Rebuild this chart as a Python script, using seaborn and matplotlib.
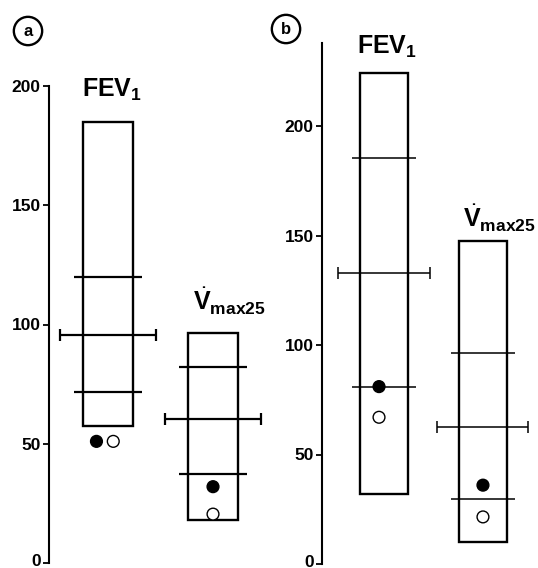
import numpy as np
import pandas as pd
import matplotlib
matplotlib.use('Agg')
import matplotlib.pyplot as plt
import matplotlib.transforms as mtransforms
import seaborn as sns

# values (percent of predicted)
measures = ['FEV1', 'Vmax25']
labels = [r'FEV$_\mathbf{1}$', r'$\dot{\mathbf{V}}_{\mathbf{max25}}$']
ticks = [0, 50, 100, 150, 200]

# panel a
a_top = [185, 96.5]
a_bottom = [57.5, 18]
a_upper = [120, 82]
a_mean = [95.5, 60.5]
a_lower = [71.5, 37.5]
a_filled = [51, 32]
a_open = [51, 20.5]

# panel b
b_top = [224, 147.5]
b_bottom = [32, 10]
b_upper = [185.5, 96.5]
b_mean = [133, 62.5]
b_lower = [81, 29.5]
b_filled = [81, 36]
b_open = [67, 21.5]

sns.set_style('white')
plt.rcParams['font.family'] = ['Liberation Sans', 'DejaVu Sans']
plt.rcParams['mathtext.fontset'] = 'custom'
plt.rcParams['mathtext.rm'] = 'Liberation Sans'
plt.rcParams['mathtext.bf'] = 'Liberation Sans:bold'
plt.rcParams['mathtext.it'] = 'Liberation Sans:italic'
plt.rcParams['text.color'] = 'black'
plt.rcParams['ytick.color'] = 'black'
plt.rcParams['axes.labelcolor'] = 'black'

W, H = 538, 568
fig = plt.figure(figsize=(W / 100, H / 100), dpi=100)


def draw_panel(ax, top, bottom, upper, mean, lower, filled, opened,
               filled_dx, open_dx, lw, label_pos):
    x = np.arange(len(measures))
    heights = np.array(top) - np.array(bottom)
    ax.bar(x, heights, bottom=bottom, width=0.48, fill=False,
           edgecolor='black', linewidth=1.7, zorder=2)
    ax.hlines(upper, x - 0.32, x + 0.32, color='black', lw=lw, zorder=2)
    ax.hlines(lower, x - 0.32, x + 0.32, color='black', lw=lw, zorder=2)
    ax.errorbar(x, mean, xerr=0.46, fmt='none', ecolor='black',
                elinewidth=lw, capsize=4.5, capthick=lw, zorder=2)
    dots = pd.DataFrame({
        'x': np.concatenate([x + np.array(filled_dx), x + np.array(open_dx)]),
        'y': filled + opened,
        'kind': ['filled'] * len(x) + ['open'] * len(x),
    })
    sns.scatterplot(data=dots, x='x', y='y', hue='kind',
                    palette={'filled': 'black', 'open': 'white'},
                    edgecolor='black', linewidth=1.0, s=72, legend=False,
                    ax=ax, zorder=3, clip_on=False)
    for lab, (lx, ly, fs) in zip(labels, label_pos):
        ax.text(lx, ly, lab, ha='center', va='bottom', fontsize=fs,
                fontweight='bold', color='black', clip_on=False)
    ax.set_yticks(ticks)
    ax.set_yticklabels([str(t) for t in ticks], fontweight='bold', color='black')
    ax.tick_params(axis='y', length=4, width=1.3, pad=2, labelsize=12.5,
                   left=True, color='black')
    # lift the "0" label a little so it stays inside the picture
    lift = mtransforms.ScaledTranslation(0, 2.5 / 72, fig.dpi_scale_trans)
    zero = ax.get_yticklabels()[0]
    zero.set_transform(zero.get_transform() + lift)
    ax.set_xticks([])
    ax.set_xlabel('')
    ax.set_ylabel('')
    for s in ['top', 'right', 'bottom']:
        ax.spines[s].set_visible(False)
    ax.spines['left'].set_linewidth(1.5)
    ax.spines['left'].set_color('black')


# panel a: axis at x=49px, 0 at y=563px, 200 at y=86px
ax_a = fig.add_axes([49 / W, 5 / H, 231 / W, 477 / H])
draw_panel(ax_a, a_top, a_bottom, a_upper, a_mean, a_lower, a_filled, a_open,
           [-0.11, 0.0], [0.05, 0.0], 1.6,
           [(0.04, 193, 18), (1.16, 103, 18)])
ax_a.set_ylim(0, 200)
ax_a.set_xlim(-0.562, 1.638)

# panel b: axis at x=322px, 0 at y=564px
ax_b = fig.add_axes([322 / W, 4 / H, 216 / W, 521 / H])
draw_panel(ax_b, b_top, b_bottom, b_upper, b_mean, b_lower, b_filled, b_open,
           [-0.05, 0.0], [-0.05, 0.0], 1.1,
           [(0.03, 230, 18), (1.17, 150.5, 18)])
ax_b.set_ylim(0, 521 / 2.19)
ax_b.set_xlim(-0.626, 1.556)

for letter, px, py in [('a', 28, 31), ('b', 286, 29)]:
    fig.text(px / W, 1 - py / H, letter, ha='center', va='center',
             fontsize=12, fontweight='bold', color='black',
             bbox=dict(boxstyle='circle,pad=0.4', fc='white', ec='black', lw=1.7))

fig.savefig('out.png', dpi=100)
